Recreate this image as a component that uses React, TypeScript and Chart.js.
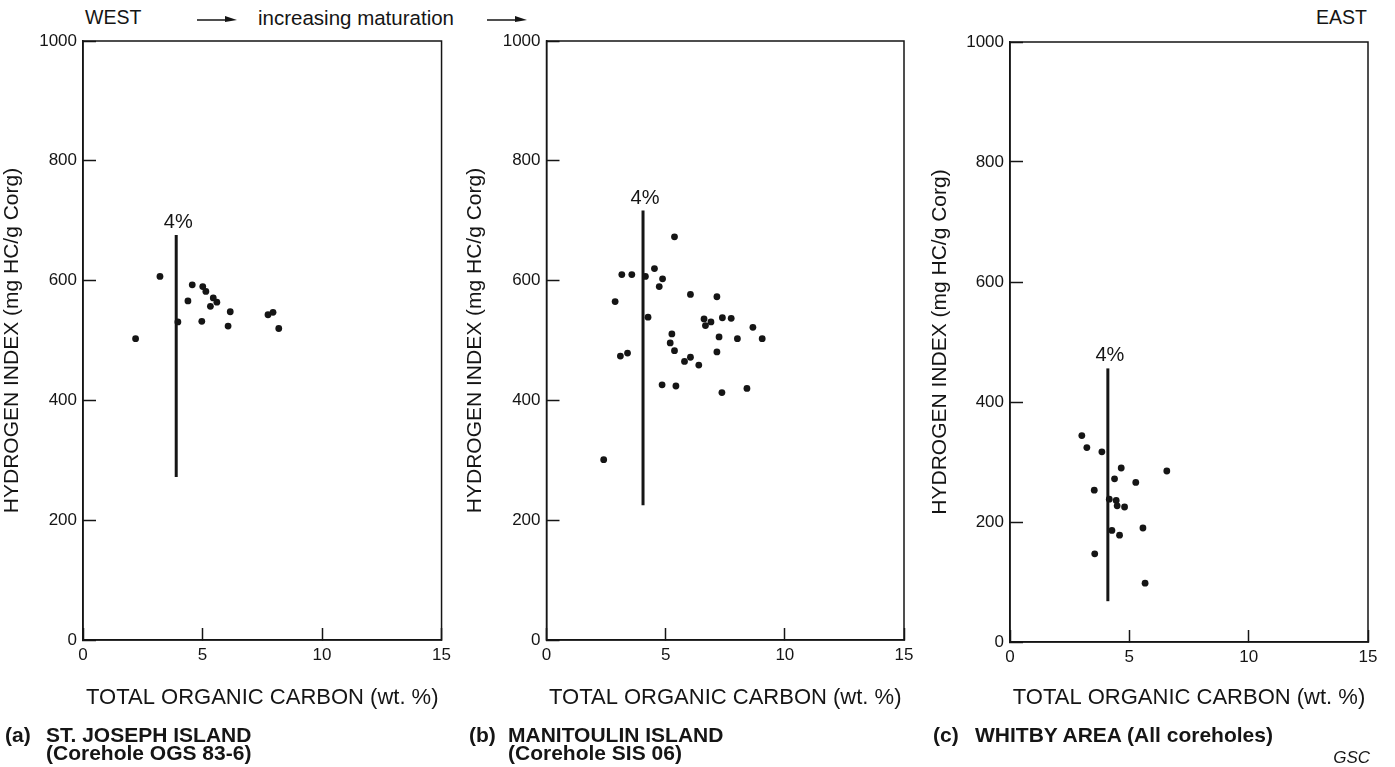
import React, { useEffect, useRef } from "react";
import { Chart, registerables } from "chart.js";

Chart.register(...registerables);

// ---------- data ----------
const xTickValues = [0, 5, 10, 15];
const yTickValues = [0, 200, 400, 600, 800, 1000];

// (a) St. Joseph Island
const aTOC = [3.22, 2.2, 4.57, 5.01, 5.14, 4.39, 5.45, 5.6, 5.33, 6.16, 3.97, 4.97, 6.07, 7.74, 7.95, 8.19];
const aHI = [607, 503, 593, 590, 582, 566, 571, 564, 557, 548, 531, 532, 524, 543, 547, 520];

// (b) Manitoulin Island
const bTOC = [5.37, 3.16, 3.58, 4.15, 4.53, 4.87, 4.73, 2.88, 6.04, 7.15, 4.26, 6.61, 6.9, 6.67, 7.38, 7.75, 8.66, 7.24, 8.01, 9.05, 5.26, 5.19, 5.37, 7.15, 3.1, 3.4, 5.79, 6.04, 6.39, 4.85, 5.43, 7.36, 8.41, 2.4];
const bHI = [673, 610, 610, 607, 620, 603, 590, 565, 577, 573, 539, 536, 531, 525, 538, 537, 522, 506, 503, 503, 511, 496, 483, 481, 474, 479, 465, 472, 459, 426, 424, 413, 420, 301];

// (c) Whitby area
const cTOC = [3.01, 3.22, 3.85, 4.66, 6.57, 4.38, 5.27, 3.53, 4.16, 4.45, 4.49, 4.8, 4.27, 4.59, 5.57, 3.55, 5.66];
const cHI = [344, 324, 317, 290, 285, 272, 266, 253, 238, 236, 227, 225, 186, 178, 190, 147, 98];

// 4% TOC reference lines (a, b, c)
const fourPctTOC = [3.9, 4.05, 4.1];
const fourPctLowHI = [272, 225, 68];
const fourPctHighHI = [676, 717, 456];
const fourPctLabel = "4%";

const xTitle = "TOTAL ORGANIC CARBON (wt. %)";
const yTitle = "HYDROGEN INDEX (mg HC/g Corg)";

const captionLetters = ["(a)", "(b)", "(c)"];
const captionLine1 = ["ST. JOSEPH ISLAND", "MANITOULIN ISLAND", "WHITBY AREA (All coreholes)"];
const captionLine2 = ["(Corehole OGS 83-6)", "(Corehole SIS 06)", ""];

// ---------- styling / layout ----------
const FONT = "'Liberation Sans', Arial, Helvetica, sans-serif";
const INK = "#151515";
const H = 767;

type PanelLayout = {
  canvasLeft: number;
  canvasWidth: number;
  chartLeft: number;
  chartRight: number;
  chartTop: number;
  chartBottom: number;
  yTitlePad: number;
  captionLeft: number;
  captionTextLeft: number;
};

const layouts: PanelLayout[] = [
  { canvasLeft: 0, canvasWidth: 468, chartLeft: 83, chartRight: 442, chartTop: 41, chartBottom: 640, yTitlePad: 2, captionLeft: 5, captionTextLeft: 46 },
  { canvasLeft: 462, canvasWidth: 473, chartLeft: 546.5, chartRight: 904, chartTop: 41, chartBottom: 640, yTitlePad: 3, captionLeft: 469, captionTextLeft: 508 },
  { canvasLeft: 925, canvasWidth: 470, chartLeft: 1010, chartRight: 1368, chartTop: 42, chartBottom: 642, yTitlePad: 5, captionLeft: 933, captionTextLeft: 975 },
];

const X_TITLE_BOTTOM = 709;

const framePlugin = {
  id: "frame",
  beforeDatasetsDraw(chart: any) {
    const { ctx, chartArea: a } = chart;
    ctx.save();
    ctx.strokeStyle = INK;
    ctx.lineWidth = 1.5;
    ctx.strokeRect(a.left, a.top, a.right - a.left, a.bottom - a.top);
    ctx.restore();
  },
};

const pctLabelPlugin = {
  id: "pctLabel",
  afterDatasetsDraw(chart: any) {
    const meta = chart.getDatasetMeta(1);
    const pts = meta.data;
    if (!pts || pts.length < 2) return;
    const top = pts.reduce((m: any, p: any) => (p.y < m.y ? p : m), pts[0]);
    const ctx = chart.ctx;
    ctx.save();
    ctx.fillStyle = INK;
    ctx.font = `20px ${FONT}`;
    ctx.textAlign = "center";
    ctx.textBaseline = "alphabetic";
    ctx.fillText(fourPctLabel, top.x + 2, top.y - 7);
    ctx.restore();
  },
};

function Panel({ idx, toc, hi }: { idx: number; toc: number[]; hi: number[] }) {
  const ref = useRef<HTMLCanvasElement | null>(null);
  const L = layouts[idx];

  useEffect(() => {
    if (!ref.current) return;
    const xH = X_TITLE_BOTTOM - L.chartBottom;
    const yW = L.chartLeft - L.canvasLeft;
    const chart = new Chart(ref.current, {
      type: "scatter",
      data: {
        datasets: [
          {
            data: toc.map((x, i) => ({ x, y: hi[i] })),
            backgroundColor: INK,
            borderColor: INK,
            pointRadius: 3.4,
            pointBorderWidth: 0,
            showLine: false,
          },
          {
            data: [
              { x: fourPctTOC[idx], y: fourPctLowHI[idx] },
              { x: fourPctTOC[idx], y: fourPctHighHI[idx] },
            ],
            showLine: true,
            borderColor: INK,
            borderWidth: 3,
            pointRadius: 0,
          },
        ],
      },
      options: {
        animation: false,
        responsive: false,
        events: [],
        plugins: { legend: { display: false }, tooltip: { enabled: false } },
        layout: {
          padding: {
            left: 0,
            top: L.chartTop,
            right: L.canvasWidth - (L.chartRight - L.canvasLeft),
            bottom: H - X_TITLE_BOTTOM,
          },
        },
        scales: {
          x: {
            type: "linear",
            min: 0,
            max: 15,
            afterBuildTicks: (s: any) => {
              s.ticks = xTickValues.map((v) => ({ value: v }));
            },
            afterFit: (s: any) => {
              s.height = xH;
            },
            ticks: {
              padding: 17,
              color: INK,
              font: { family: FONT, size: 17 },
              maxRotation: 0,
              callback: (v: any) => String(v),
            },
            grid: {
              display: true,
              drawOnChartArea: false,
              drawTicks: true,
              tickLength: -12,
              tickWidth: 1.5,
              tickColor: INK,
            },
            border: { display: true, color: INK, width: 1.5 },
            title: {
              display: true,
              text: xTitle,
              color: INK,
              font: { family: FONT, size: 22, lineHeight: 1 },
              padding: { top: 0, bottom: 0 },
            },
          },
          y: {
            type: "linear",
            min: 0,
            max: 1000,
            afterBuildTicks: (s: any) => {
              s.ticks = yTickValues.map((v) => ({ value: v }));
            },
            afterFit: (s: any) => {
              s.width = yW;
            },
            ticks: {
              padding: 19,
              color: INK,
              font: { family: FONT, size: 17 },
              callback: (v: any) => String(v),
            },
            grid: {
              display: true,
              drawOnChartArea: false,
              drawTicks: true,
              tickLength: -13,
              tickWidth: 1.5,
              tickColor: INK,
            },
            border: { display: true, color: INK, width: 1.5 },
            title: {
              display: true,
              text: yTitle,
              color: INK,
              font: { family: FONT, size: 21, lineHeight: 1 },
              padding: { top: L.yTitlePad, bottom: 0 },
            },
          },
        },
      },
      plugins: [framePlugin, pctLabelPlugin],
    } as any);
    return () => chart.destroy();
  }, [idx]);

  const capStyle: React.CSSProperties = {
    position: "absolute",
    top: 726,
    font: `bold 21px ${FONT}`,
    lineHeight: "18px",
    color: INK,
    whiteSpace: "nowrap",
  };

  return (
    <>
      <canvas
        ref={ref}
        width={L.canvasWidth}
        height={H}
        style={{ position: "absolute", left: L.canvasLeft, top: 0, width: L.canvasWidth, height: H }}
      />
      <div style={{ ...capStyle, left: L.captionLeft }}>{captionLetters[idx]}</div>
      <div style={{ ...capStyle, left: L.captionTextLeft }}>
        <div>{captionLine1[idx]}</div>
        {captionLine2[idx] ? <div>{captionLine2[idx]}</div> : null}
      </div>
    </>
  );
}

function Arrow({ x1, x2, y }: { x1: number; x2: number; y: number }) {
  return (
    <svg
      style={{ position: "absolute", left: x1, top: y - 6, overflow: "visible" }}
      width={x2 - x1}
      height={12}
    >
      <line x1={0} y1={6} x2={x2 - x1 - 6} y2={6} stroke={INK} strokeWidth={1.5} />
      <polygon points={`${x2 - x1 - 12},2 ${x2 - x1},6 ${x2 - x1 - 12},8`} fill={INK} />
    </svg>
  );
}

export default function App() {
  return (
    <div
      style={{
        position: "absolute",
        left: 0,
        top: 0,
        width: 1395,
        height: H,
        background: "#fff",
        overflow: "hidden",
        fontFamily: FONT,
        color: INK,
      }}
    >
      <div style={{ position: "absolute", left: 85, top: 8, font: `19.5px ${FONT}`, lineHeight: "19px" }}>WEST</div>
      <Arrow x1={197} x2={237} y={20} />
      <div style={{ position: "absolute", left: 258, top: 8, font: `20.5px ${FONT}`, lineHeight: "20px", whiteSpace: "nowrap" }}>
        increasing maturation
      </div>
      <Arrow x1={487} x2={527} y={20} />
      <div style={{ position: "absolute", right: 28, top: 8, font: `19.5px ${FONT}`, lineHeight: "19px" }}>EAST</div>

      <Panel idx={0} toc={aTOC} hi={aHI} />
      <Panel idx={1} toc={bTOC} hi={bHI} />
      <Panel idx={2} toc={cTOC} hi={cHI} />

      <div style={{ position: "absolute", right: 25, top: 749, font: `italic 17px ${FONT}`, lineHeight: "17px" }}>GSC</div>
    </div>
  );
}
